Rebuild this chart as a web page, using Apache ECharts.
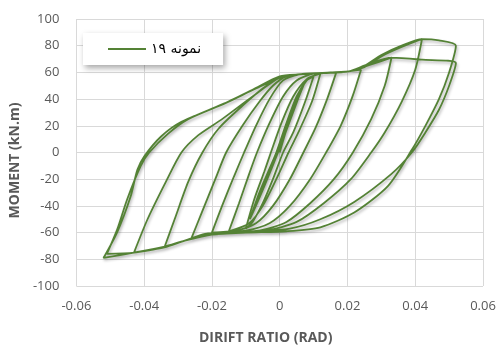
<!DOCTYPE html>
<html lang="en">
<head>
    <meta charset="UTF-8">
    <title>Moment - drift</title>
    <script src="https://cdn.jsdelivr.net/npm/echarts@6/dist/echarts.min.js"></script>
    <style>
        html, body { margin: 0; padding: 0; background: #fff; }
        #chart { width: 500px; height: 350px; }
    </style>
</head>
<body>
    <div id="chart"></div>
    <script>
        // drift ratio (rad), moment (kN.m), cycle by cycle
        const seriesName = 'نمونه ۱۹';
        const xTicks = [-0.06, -0.04, -0.02, 0, 0.02, 0.04, 0.06];
        const yTicks = [-100, -80, -60, -40, -20, 0, 20, 40, 60, 80, 100];

        const cycle1 = [[0, 0], [0.002, 17], [0.005, 38], [0.001, 12], [-0.003, -13], [-0.006, -33]];
        const cycle2 = [[-0.002, -8], [0.002, 17], [0.005, 38], [0.001, 12], [-0.003, -13], [-0.006, -33]];
        const cycle3 = [[-0.004, -20], [0, 5], [0.004, 32], [0.0073, 52], [0.003, 25], [-0.001, -2], [-0.005, -28], [-0.0088, -50]];
        const cycle4 = [[-0.0045, -22], [-0.0005, 3], [0.0035, 30], [0.0073, 53], [0.0035, 27], [-0.0005, 0], [-0.0045, -25], [-0.0088, -50]];
        const cycle5 = [[-0.006, -30], [-0.003, -12], [-0.001, 0], [0.002, 22], [0.005, 42], [0.008, 54], [0.010, 57],
            [0.0075, 38], [0.004, 15], [0.001, 0], [-0.002, -20], [-0.005, -38], [-0.008, -52], [-0.010, -57]];
        const cycle6 = [[-0.0075, -35], [-0.0045, -14], [-0.0026, 0], [0.0005, 22], [0.004, 42], [0.008, 55], [0.012, 59],
            [0.0095, 38], [0.0055, 15], [0.0026, 0], [-0.001, -20], [-0.005, -40], [-0.009, -53], [-0.015, -59]];
        const cycle7 = [[-0.012, -38], [-0.009, -16], [-0.0067, 0], [-0.003, 22], [0.001, 42], [0.005, 54], [0.010, 59], [0.0167, 60],
            [0.014, 40], [0.0105, 18], [0.007, 0], [0.003, -20], [-0.002, -40], [-0.007, -53], [-0.013, -58.5], [-0.020, -60]];
        const cycle8 = [[-0.017, -40], [-0.0135, -18], [-0.0105, 0], [-0.007, 20], [-0.003, 40], [0.001, 54], [0.006, 58.5], [0.012, 59.5], [0.018, 60], [0.024, 62],
            [0.0215, 42], [0.018, 20], [0.0137, 0], [0.009, -20], [0.003, -40], [-0.003, -53], [-0.010, -58.5], [-0.018, -60], [-0.026, -64]];
        const cycle9 = [[-0.023, -45], [-0.019, -20], [-0.0158, 0], [-0.011, 20], [-0.006, 38], [-0.002, 50], [0.002, 57], [0.008, 59], [0.015, 60], [0.021, 61], [0.027, 66], [0.033, 71],
            [0.031, 50], [0.027, 25], [0.0216, 0], [0.016, -20], [0.009, -38], [0.002, -52], [-0.006, -58.5], [-0.015, -59.5], [-0.022, -61], [-0.028, -66], [-0.034, -71]];
        const cycle10 = [[-0.031, -50], [-0.027, -22], [-0.0228, 0], [-0.018, 18], [-0.011, 35], [-0.005, 48], [0, 56], [0.006, 58.5], [0.013, 59.5], [0.020, 60.5], [0.025, 64], [0.030, 72], [0.036, 79], [0.042, 85],
            [0.040, 62], [0.036, 38], [0.031, 15], [0.027, 0], [0.021, -20], [0.013, -38], [0.005, -52], [-0.004, -58.5], [-0.015, -60], [-0.022, -62], [-0.028, -66], [-0.034, -71], [-0.043, -75]];
        const cycle11 = [[-0.039, -50], [-0.0336, -22], [-0.029, 0], [-0.024, 13], [-0.017, 25], [-0.008, 42], [0, 56], [0.006, 58.5], [0.013, 59.5], [0.020, 60.5], [0.025, 65], [0.030, 73], [0.036, 80], [0.042, 85], [0.047, 84], [0.052, 80],
            [0.050, 60], [0.047, 40], [0.043, 20], [0.039, 2], [0.032, -25], [0.022, -45], [0.012, -56], [0.002, -59], [-0.010, -60], [-0.020, -61.5], [-0.028, -66], [-0.034, -70.5], [-0.043, -75], [-0.052, -79]];
        const cycle12 = [[-0.048, -60], [-0.044, -33], [-0.042, -13], [-0.040, -3], [-0.035, 12], [-0.029, 23], [-0.017, 36], [-0.008, 47], [0, 57], [0.006, 58.5], [0.013, 59.5], [0.020, 60.5], [0.026, 66], [0.033, 71], [0.042, 69.5], [0.052, 67],
            [0.050, 50], [0.047, 32], [0.043, 15], [0.039, 0], [0.033, -16], [0.022, -37], [0.012, -50], [0.003, -57], [-0.008, -59.5], [-0.020, -61.5], [-0.028, -66], [-0.034, -70.5], [-0.043, -75], [-0.051, -76]];
        const cycle13 = [[-0.048, -58], [-0.045, -35], [-0.041, -10], [-0.0385, 0], [-0.033, 14], [-0.027, 25], [-0.016, 37], [-0.007, 48], [0.001, 57]];

        const points = [].concat(cycle1, cycle2, cycle3, cycle4, cycle5, cycle6, cycle7,
            cycle8, cycle9, cycle10, cycle11, cycle12, cycle13);

        const gray = '#595959';
        const tickLabel = (v) => Math.abs(v) < 1e-9 ? '0' : (Number.isInteger(v) ? String(v) : v.toFixed(2));

        const chart = echarts.init(document.getElementById('chart'));
        chart.setOption({
            animation: false,
            backgroundColor: '#fff',
            grid: { left: 72, right: 17, top: 19, bottom: 63 },
            legend: {
                left: 83,
                top: 33,
                padding: [9, 22, 9, 25],
                backgroundColor: '#fff',
                shadowBlur: 6,
                shadowColor: 'rgba(0,0,0,0.35)',
                shadowOffsetX: 2,
                shadowOffsetY: 3,
                icon: 'rect',
                itemWidth: 38,
                itemHeight: 2,
                textStyle: { fontFamily: 'DejaVu Sans', fontSize: 14, color: '#000' },
                data: [seriesName]
            },
            xAxis: {
                type: 'value',
                min: xTicks[0],
                max: xTicks[xTicks.length - 1],
                interval: 0.02,
                name: 'DIRIFT RATIO (RAD)',
                nameLocation: 'middle',
                nameGap: 45,
                nameTextStyle: { fontFamily: 'Open Sans', fontWeight: 'bold', fontSize: 14, color: gray, padding: [0, 28, 0, 0] },
                axisLine: { show: false },
                axisTick: { show: false },
                axisLabel: { formatter: tickLabel, fontFamily: 'Open Sans', fontSize: 13, color: gray, margin: 14 },
                splitLine: { lineStyle: { color: '#d9d9d9', width: 1 } }
            },
            yAxis: {
                type: 'value',
                min: yTicks[0],
                max: yTicks[yTicks.length - 1],
                interval: 20,
                name: 'MOMENT (kN.m)',
                nameLocation: 'middle',
                nameGap: 50,
                nameTextStyle: { fontFamily: 'Open Sans', fontWeight: 'bold', fontSize: 14, color: gray, padding: [0, 16, 0, 0] },
                axisLine: { show: false },
                axisTick: { show: false },
                axisLabel: { formatter: tickLabel, fontFamily: 'Open Sans', fontSize: 13, color: gray, margin: 17 },
                splitLine: { lineStyle: { color: '#d9d9d9', width: 1 } }
            },
            series: [{
                name: seriesName,
                type: 'line',
                data: points,
                smooth: 0.25,
                showSymbol: false,
                symbol: 'none',
                color: '#548235',
                lineStyle: {
                    width: 1.8,
                    color: '#548235',
                    shadowColor: 'rgba(0,0,0,0.3)',
                    shadowBlur: 3,
                    shadowOffsetX: 1,
                    shadowOffsetY: 2
                }
            }]
        });
    </script>
</body>
</html>
